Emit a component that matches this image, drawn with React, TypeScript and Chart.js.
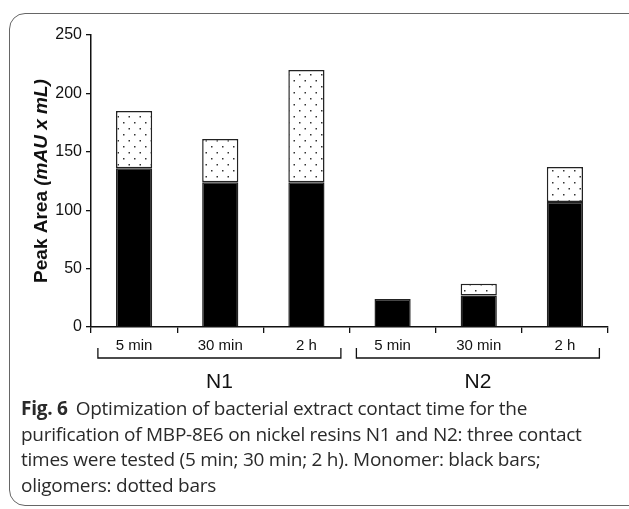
import React, { useEffect, useRef } from 'react';
import { Chart, registerables } from 'chart.js';
Chart.register(...registerables);

const categories = ['5 min', '30 min', '2 h', '5 min', '30 min', '2 h'];
const groupLabels = ['N1', 'N2'];
const groupStart = [0, 3];
const groupEnd = [2, 5];
const monomer = [136, 124, 124, 24, 27, 107];
const oligomer = [49, 37, 96, 0, 10, 30];
const yMin = 0;
const yMax = 250;
const yStep = 50;
const yTitleMain = 'Peak Area ';
const yTitleUnit = '(mAU x mL)';
const captionBold = 'Fig. 6';
const captionLines = [
  'Optimization of bacterial extract contact time for the',
  'purification of MBP-8E6 on nickel resins N1 and N2: three contact',
  'times were tested (5 min; 30 min; 2 h). Monomer: black bars;',
  'oligomers: dotted bars',
];

const FONT = '"Liberation Sans", Arial, sans-serif';

function makeDots(): CanvasPattern | string {
  const c = document.createElement('canvas');
  c.width = 11;
  c.height = 12;
  const g = c.getContext('2d');
  if (!g) return '#fff';
  g.fillStyle = '#ffffff';
  g.fillRect(0, 0, 11, 12);
  g.fillStyle = '#333333';
  g.fillRect(2, 2, 1.5, 1.5);
  g.fillRect(7.5, 8, 1.5, 1.5);
  const p = g.createPattern(c, 'repeat');
  return p || '#fff';
}

const decor = {
  id: 'decor',
  afterDraw(chart: any) {
    const { ctx, chartArea, scales } = chart;
    const x = scales.x;
    ctx.save();
    ctx.translate(42, (chartArea.top + chartArea.bottom) / 2);
    ctx.rotate(-Math.PI / 2);
    ctx.fillStyle = '#111';
    ctx.textBaseline = 'middle';
    ctx.textAlign = 'left';
    const f1 = `bold 19px ${FONT}`;
    const f2 = `italic bold 19px ${FONT}`;
    ctx.font = f1;
    const w1 = ctx.measureText(yTitleMain).width;
    ctx.font = f2;
    const w2 = ctx.measureText(yTitleUnit).width;
    const sx = -(w1 + w2) / 2;
    ctx.font = f1;
    ctx.fillText(yTitleMain, sx, 0);
    ctx.font = f2;
    ctx.fillText(yTitleUnit, sx + w1, 0);
    ctx.restore();

    const catW = (x.right - x.left) / categories.length;
    const yb = chartArea.bottom + 31;
    ctx.save();
    ctx.strokeStyle = '#111';
    ctx.lineWidth = 1.3;
    ctx.fillStyle = '#111';
    groupLabels.forEach((lab, i) => {
      const l = x.getPixelForValue(groupStart[i]) - catW * 0.42;
      const r = x.getPixelForValue(groupEnd[i]) + catW * 0.4;
      ctx.beginPath();
      ctx.moveTo(l, yb - 10);
      ctx.lineTo(l, yb);
      ctx.lineTo(r, yb);
      ctx.lineTo(r, yb - 10);
      ctx.stroke();
      ctx.font = `21px ${FONT}`;
      ctx.textAlign = 'center';
      ctx.textBaseline = 'middle';
      ctx.fillText(lab, (l + r) / 2, chartArea.bottom + 55);
    });
    ctx.restore();
  },
};

export default function App() {
  const ref = useRef<HTMLCanvasElement>(null);
  useEffect(() => {
    if (!ref.current) return;
    const dots = makeDots();
    const chart = new Chart(ref.current, {
      type: 'bar',
      data: {
        labels: categories,
        datasets: [
          {
            label: 'Monomer',
            data: monomer,
            backgroundColor: '#000',
            borderColor: '#222',
            borderWidth: 1.5,
            borderSkipped: 'start',
          },
          {
            label: 'Oligomers',
            data: oligomer,
            backgroundColor: dots as any,
            borderColor: '#222',
            borderWidth: 1.5,
            borderSkipped: false,
          },
        ],
      },
      options: {
        responsive: false,
        animation: false,
        events: [],
        layout: { padding: { top: 35, right: 21, left: 0, bottom: 0 } },
        plugins: { legend: { display: false }, tooltip: { enabled: false } },
        datasets: { bar: { barPercentage: 0.42, categoryPercentage: 1 } },
        scales: {
          x: {
            stacked: true,
            grid: { drawOnChartArea: false, drawTicks: true, tickLength: 6, color: '#111', lineWidth: 1.3, offset: true },
            border: { color: '#111', width: 1.5 },
            ticks: { font: { size: 15, family: FONT }, color: '#111', padding: 4, maxRotation: 0 },
            afterFit: (s: any) => { s.height = 182; },
          },
          y: {
            stacked: true,
            min: yMin,
            max: yMax,
            grid: { drawOnChartArea: false, drawTicks: true, tickLength: 5, color: '#111', lineWidth: 1.3 },
            border: { color: '#111', width: 1.5 },
            ticks: { stepSize: yStep, font: { size: 16, family: FONT }, color: '#111', padding: 4 },
            afterFit: (s: any) => { s.width = 91; },
          },
        },
      },
      plugins: [decor],
    });
    return () => chart.destroy();
  }, []);

  return (
    <div style={{ position: 'absolute', left: 0, top: 0, width: 629, height: 509, overflow: 'hidden', background: '#fff' }}>
      <div
        style={{
          position: 'absolute',
          left: 9,
          top: 13,
          width: 640,
          height: 493,
          border: '1.5px solid #666',
          borderRadius: 16,
          boxSizing: 'border-box',
        }}
      />
      <canvas ref={ref} width={629} height={509} style={{ position: 'absolute', left: 0, top: 0, width: 629, height: 509 }} />
      <div
        style={{
          position: 'absolute',
          left: 21,
          top: 396,
          fontFamily: '"Open Sans", "Noto Sans", sans-serif',
          fontSize: 19,
          lineHeight: '25.5px',
          color: '#2a2a2a',
          whiteSpace: 'nowrap',
          letterSpacing: -0.25,
        }}
      >
        {captionLines.map((line, i) => (
          <div key={i}>
            {i === 0 ? <b style={{ marginRight: 8 }}>{captionBold}</b> : null}
            {line}
          </div>
        ))}
      </div>
    </div>
  );
}
